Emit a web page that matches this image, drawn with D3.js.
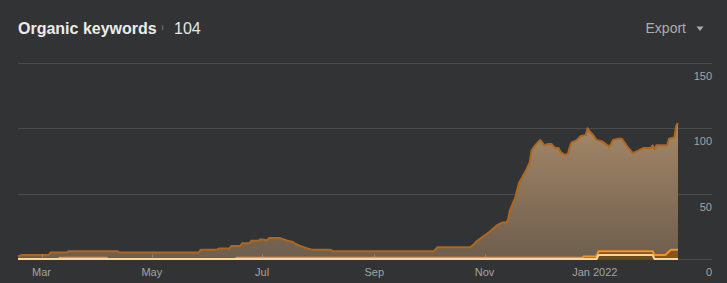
<!DOCTYPE html>
<html>
<head>
<meta charset="utf-8">
<script src="https://cdn.jsdelivr.net/npm/d3@7"></script>
<style>
  html, body { margin: 0; padding: 0; background: #323335; }
  svg { display: block; font-family: "Liberation Sans", Arial, sans-serif; }
</style>
</head>
<body>
<svg id="chart"></svg>
<script>
// Organic keywords — dark area chart

const TITLE = "Organic keywords";
const CURRENT = "104";

// total keywords (top of the stack)
const totalSeries = [
  ["2021-02-16", 2], ["2021-02-18", 3], ["2021-03-05", 3], ["2021-03-06", 5],
  ["2021-03-15", 5], ["2021-03-16", 6], ["2021-04-12", 6], ["2021-04-13", 5],
  ["2021-05-27", 5], ["2021-05-28", 7], ["2021-06-06", 7], ["2021-06-07", 8],
  ["2021-06-13", 8], ["2021-06-14", 10], ["2021-06-19", 10], ["2021-06-20", 12],
  ["2021-06-24", 12], ["2021-06-25", 14], ["2021-06-29", 14], ["2021-06-30", 15],
  ["2021-07-02", 15], ["2021-07-03", 14], ["2021-07-05", 16], ["2021-07-11", 16],
  ["2021-07-13", 15], ["2021-07-15", 14], ["2021-07-18", 13], ["2021-07-19", 12],
  ["2021-07-22", 10], ["2021-07-24", 9], ["2021-07-26", 8], ["2021-07-29", 7],
  ["2021-08-08", 7], ["2021-08-09", 6], ["2021-10-04", 6], ["2021-10-06", 9],
  ["2021-10-24", 9], ["2021-10-26", 11], ["2021-10-28", 14], ["2021-10-30", 16],
  ["2021-11-01", 18], ["2021-11-04", 21], ["2021-11-08", 26], ["2021-11-11", 28],
  ["2021-11-13", 28], ["2021-11-14", 30], ["2021-11-15", 37], ["2021-11-18", 47],
  ["2021-11-20", 58], ["2021-11-22", 63], ["2021-11-24", 68], ["2021-11-26", 74],
  ["2021-11-27", 83], ["2021-11-29", 87], ["2021-12-01", 90], ["2021-12-02", 91],
  ["2021-12-04", 87], ["2021-12-06", 88], ["2021-12-08", 88], ["2021-12-10", 85],
  ["2021-12-12", 85], ["2021-12-13", 82], ["2021-12-15", 80], ["2021-12-17", 80],
  ["2021-12-18", 85], ["2021-12-19", 89], ["2021-12-22", 91], ["2021-12-24", 94],
  ["2021-12-27", 95], ["2021-12-28", 100], ["2021-12-29", 98], ["2021-12-31", 95],
  ["2022-01-02", 91], ["2022-01-05", 90], ["2022-01-08", 87], ["2022-01-09", 86],
  ["2022-01-10", 88], ["2022-01-11", 91], ["2022-01-14", 92], ["2022-01-16", 92],
  ["2022-01-19", 86], ["2022-01-22", 81], ["2022-01-25", 83], ["2022-01-28", 85],
  ["2022-02-01", 85], ["2022-02-02", 87], ["2022-02-03", 84], ["2022-02-04", 87],
  ["2022-02-10", 87], ["2022-02-11", 92], ["2022-02-14", 93], ["2022-02-15", 102],
  ["2022-02-16", 104]
];

// positions 1-10 (cumulative height of the orange band)
const top10Series = [
  ["2021-02-16", 0], ["2021-03-10", 0], ["2021-03-11", 1], ["2021-04-06", 1],
  ["2021-04-07", 0], ["2021-06-16", 0], ["2021-06-17", 1], ["2021-12-25", 1],
  ["2021-12-26", 2], ["2022-01-02", 2], ["2022-01-03", 6], ["2022-02-02", 6],
  ["2022-02-03", 3], ["2022-02-09", 3], ["2022-02-12", 7], ["2022-02-16", 7]
];

// positions 1-3 (light band)
const top3Series = [
  ["2021-02-16", 0], ["2022-01-02", 0], ["2022-01-03", 3], ["2022-02-02", 3],
  ["2022-02-03", 0], ["2022-02-16", 0]
];

const yTicks = [0, 50, 100, 150];
const xTickDates = ["2021-03-01", "2021-05-01", "2021-07-01", "2021-09-01", "2021-11-01", "2022-01-01"];
const xTickLabels = ["Mar", "May", "Jul", "Sep", "Nov", "Jan 2022"];

(function () {
  const W = 727, H = 283;
  const X0 = 18, X1 = 678, GRID_R = 712;
  const Y0 = 259, Y1 = 63;

  const BG = "#323335";
  const GRID = "#4a4b4d";
  const LABEL = "#a3a3a3";
  const LINE = "#b0661c";
  const ORANGE = "#f7931e";
  const CREAM = "#fdd49c";

  const parse = d3.timeParse("%Y-%m-%d");
  const toPts = s => s.map(([d, v]) => ({ date: parse(d), value: v }));
  const total = toPts(totalSeries);
  const top10 = toPts(top10Series);
  const top3 = toPts(top3Series);

  const svg = d3.select("#chart").attr("width", W).attr("height", H);
  svg.append("rect").attr("width", W).attr("height", H).attr("fill", BG);

  const x = d3.scaleTime()
    .domain([parse("2021-02-16"), parse("2022-02-16")])
    .range([X0, X1]);
  const y = d3.scaleLinear().domain([0, 150]).range([Y0, Y1]);

  // gradient for the main area
  const defs = svg.append("defs");
  const grad = defs.append("linearGradient")
    .attr("id", "areaGrad")
    .attr("gradientUnits", "userSpaceOnUse")
    .attr("x1", 0).attr("x2", 0)
    .attr("y1", y(105)).attr("y2", y(0));
  grad.append("stop").attr("offset", 0).attr("stop-color", "#a58868");
  grad.append("stop").attr("offset", 1).attr("stop-color", "#6d5e4e");

  // gridlines
  svg.append("g")
    .selectAll("line")
    .data(yTicks)
    .join("line")
    .attr("x1", X0).attr("x2", GRID_R)
    .attr("y1", d => Math.round(y(d)) + 0.5).attr("y2", d => Math.round(y(d)) + 0.5)
    .attr("stroke", GRID).attr("stroke-width", 1);

  // y labels, right side under each gridline
  svg.append("g")
    .selectAll("text")
    .data(yTicks)
    .join("text")
    .attr("x", GRID_R).attr("y", d => y(d) + 17)
    .attr("text-anchor", "end")
    .attr("fill", LABEL).attr("font-size", 11)
    .text(d => d);

  // main area + line
  const area = d3.area()
    .x(d => x(d.date)).y0(y(0)).y1(d => y(d.value));
  const line = d3.line()
    .x(d => x(d.date)).y(d => y(d.value));

  svg.append("path").datum(total)
    .attr("fill", "url(#areaGrad)").attr("d", area);
  svg.append("path").datum(total)
    .attr("fill", "none").attr("stroke", LINE)
    .attr("stroke-width", 2).attr("stroke-linejoin", "round")
    .attr("d", line);

  // orange band
  svg.append("path").datum(top10)
    .attr("fill", "#85551f").attr("d", area);
  svg.append("path").datum(top10)
    .attr("fill", "none").attr("stroke", ORANGE)
    .attr("stroke-width", 2).attr("stroke-linejoin", "round")
    .attr("d", line);

  // light band
  svg.append("path").datum(top3)
    .attr("fill", "#6a4a22").attr("d", area);
  svg.append("path").datum(top3)
    .attr("fill", "none").attr("stroke", CREAM)
    .attr("stroke-width", 2).attr("stroke-linejoin", "round")
    .attr("d", line);

  // x ticks and labels
  const xt = xTickDates.map(parse);
  svg.append("g")
    .selectAll("line")
    .data(xt)
    .join("line")
    .attr("x1", d => Math.round(x(d)) + 0.5).attr("x2", d => Math.round(x(d)) + 0.5)
    .attr("y1", y(0) - 5).attr("y2", y(0))
    .attr("stroke", "#bbbbbb").attr("stroke-opacity", 0.35);

  svg.append("g")
    .selectAll("text")
    .data(xt)
    .join("text")
    .attr("x", d => x(d)).attr("y", 276)
    .attr("text-anchor", "middle")
    .attr("fill", LABEL).attr("font-size", 11)
    .text((d, i) => xTickLabels[i]);

  // header
  const title = svg.append("text")
    .attr("x", 18).attr("y", 34)
    .attr("fill", "#ebebeb").attr("font-size", 16).attr("font-weight", 700)
    .text(TITLE);
  const tw = title.node().getComputedTextLength();

  svg.append("text")
    .attr("x", 18 + tw + 5).attr("y", 30)
    .attr("fill", "#8a8a8a").attr("font-size", 8)
    .text("i");

  svg.append("text")
    .attr("x", 174).attr("y", 34)
    .attr("fill", "#e6e6e6").attr("font-size", 16)
    .text(CURRENT);

  svg.append("text")
    .attr("x", 686).attr("y", 33)
    .attr("text-anchor", "end")
    .attr("fill", "#adadad").attr("font-size", 14)
    .text("Export");

  svg.append("path")
    .attr("d", "M696.5,26.5 L703.5,26.5 L700,31 Z")
    .attr("fill", "#adadad");
})();
</script>
</body>
</html>
